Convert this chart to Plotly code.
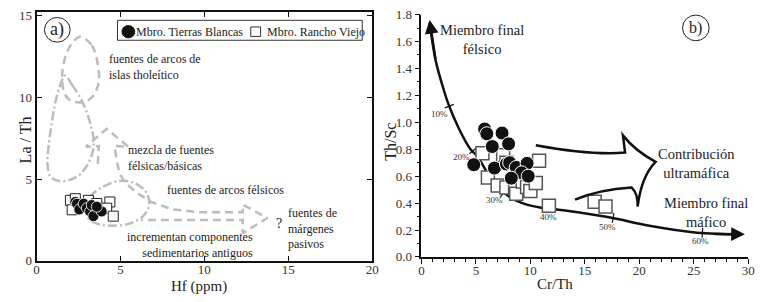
import plotly.graph_objects as go

W, H = 767, 302

# ---------------- Data ----------------
# Panel a) Hf (ppm) vs La/Th
tb_hf = [2.31, 2.41, 2.55, 2.81, 3.00, 3.19, 3.39, 3.88, 3.29, 3.59]
tb_lath = [3.60, 3.49, 3.14, 3.49, 3.22, 3.02, 2.73, 3.02, 3.41, 3.31]
rv_hf = [2.02, 2.31, 2.12, 3.10, 3.59, 4.37, 4.18, 4.57, 2.70]
rv_lath = [3.70, 3.80, 3.12, 3.70, 3.51, 3.60, 3.22, 2.73, 3.31]

# Panel b) Cr/Th vs Th/Sc
tb_crth = [5.8, 6.0, 7.4, 6.5, 8.0, 4.8, 6.7, 7.8, 8.1, 8.7, 9.7, 9.2, 9.8, 8.25]
tb_thsc = [0.95, 0.915, 0.92, 0.82, 0.84, 0.685, 0.66, 0.69, 0.70, 0.665, 0.695, 0.625, 0.60, 0.585]
rv_crth = [5.6, 7.5, 10.8, 7.8, 6.1, 7.0, 7.8, 8.6, 8.7, 9.3, 9.7, 10.0, 10.5, 11.7, 15.9, 16.9]
rv_thsc = [0.77, 0.755, 0.715, 0.70, 0.59, 0.53, 0.515, 0.51, 0.47, 0.56, 0.52, 0.49, 0.55, 0.38, 0.41, 0.375]

# Mixing curve
mix_crth = [0.75, 1.3, 2.05, 2.5, 3.4, 4.5, 5.1, 6.6, 8.1, 9.6, 11.1, 13.2, 16.1, 17.8, 20.8, 25.3, 29.4]
mix_thsc = [1.74, 1.46, 1.24, 1.13, 0.96, 0.80, 0.75, 0.56, 0.445, 0.39, 0.365, 0.345, 0.31, 0.285, 0.233, 0.18, 0.168]
pct_labels = ["10%", "20%", "30%", "40%", "50%", "60%"]
pct_crth = [2.55, 4.75, 7.5, 12.1, 17.6, 25.8]
pct_thsc = [1.12, 0.79, 0.47, 0.36, 0.29, 0.18]
pct_lab_crth = [1.63, 3.72, 6.7, 11.7, 17.1, 25.6]
pct_lab_thsc = [1.06, 0.74, 0.42, 0.30, 0.22, 0.12]

# Panel a) provenance fields (grey outlines)
tholeiitic_hf = [2.59, 3.29, 3.65, 3.70, 3.29, 2.70, 2.00, 1.65, 1.53, 1.76, 2.12, 2.59]
tholeiitic_lath = [13.72, 13.20, 12.03, 10.87, 10.00, 9.71, 9.83, 10.29, 11.45, 12.62, 13.31, 13.72]
mixfield_hf = [1.71, 2.12, 2.53, 2.94, 3.24, 3.41, 3.35, 3.06, 2.59, 1.94, 1.35, 0.82, 0.65, 0.71, 0.88, 1.12, 1.41, 1.71]
mixfield_lath = [11.34, 10.76, 10.12, 9.24, 8.26, 7.38, 6.69, 5.93, 5.29, 4.94, 4.88, 5.17, 5.93, 6.92, 8.26, 9.71, 10.76, 11.34]
felsic_hf = [2.94, 3.18, 3.88, 4.88, 5.82, 6.53, 6.71, 6.35, 5.53, 4.47, 3.59, 3.06, 2.94]
felsic_lath = [3.14, 3.90, 4.48, 4.88, 4.77, 4.19, 3.43, 2.73, 2.27, 2.15, 2.27, 2.62, 3.14]
arrow_hf = [3.65, 3.71, 2.94, 4.18, 5.47, 4.65, 4.76, 4.94, 5.29, 5.94, 6.82, 8.12, 9.76, 12.29, 12.29, 13.76, 12.29, 12.29, 6.24]
arrow_lath = [5.93, 7.03, 6.98, 8.08, 6.98, 7.03, 6.22, 5.35, 4.77, 4.19, 3.60, 3.14, 2.97, 2.97, 3.43, 2.62, 1.69, 2.50, 2.50]

x1_ticks = [0, 5, 10, 15, 20]
y1_ticks = [0, 5, 10, 15]
x2_ticks = [0, 5, 10, 15, 20, 25, 30]
y2_ticks = [0.0, 0.2, 0.4, 0.6, 0.8, 1.0, 1.2, 1.4, 1.6, 1.8]

SERIF = "Liberation Serif"
GREY = "#bcbcbc"


def P(px, py):
    return px / W, 1 - py / H


fig = go.Figure()

# ---- Panel a fields ----
fig.add_trace(go.Scatter(x=tholeiitic_hf, y=tholeiitic_lath, mode="lines", xaxis="x", yaxis="y",
                         line=dict(color=GREY, width=2.5, dash="8px,5px", shape="spline", smoothing=1.0),
                         showlegend=False, hoverinfo="skip"))
fig.add_trace(go.Scatter(x=mixfield_hf, y=mixfield_lath, mode="lines", xaxis="x", yaxis="y",
                         line=dict(color=GREY, width=2.5, dash="9px,3px,2px,3px", shape="spline", smoothing=1.0),
                         showlegend=False, hoverinfo="skip"))
fig.add_trace(go.Scatter(x=felsic_hf, y=felsic_lath, mode="lines", xaxis="x", yaxis="y",
                         line=dict(color=GREY, width=2.5, dash="9px,3px,2px,3px", shape="spline", smoothing=1.0),
                         showlegend=False, hoverinfo="skip"))
fig.add_trace(go.Scatter(x=arrow_hf, y=arrow_lath, mode="lines", xaxis="x", yaxis="y",
                         line=dict(color=GREY, width=2.5, dash="8px,5px"),
                         showlegend=False, hoverinfo="skip"))

# ---- Panel a data ----
fig.add_trace(go.Scatter(x=rv_hf, y=rv_lath, mode="markers", xaxis="x", yaxis="y",
                         marker=dict(symbol="square", size=10, color="white", line=dict(color="#222", width=1)),
                         showlegend=False))
fig.add_trace(go.Scatter(x=tb_hf, y=tb_lath, mode="markers", xaxis="x", yaxis="y",
                         marker=dict(symbol="circle", size=11, color="#111", line=dict(color="white", width=0.8)),
                         showlegend=False))

# ---- Panel b ----
fig.add_trace(go.Scatter(x=mix_crth, y=mix_thsc, mode="lines", xaxis="x2", yaxis="y2",
                         line=dict(color="#111", width=2.5, shape="spline", smoothing=1.0),
                         showlegend=False, hoverinfo="skip"))
fig.add_trace(go.Scatter(x=pct_crth, y=pct_thsc, mode="markers", xaxis="x2", yaxis="y2",
                         marker=dict(symbol="line-ns", size=7, angle=[69, 50, 40, 15, 10, 4],
                                     line=dict(color="#111", width=1.2)),
                         showlegend=False, hoverinfo="skip"))
fig.add_trace(go.Scatter(x=rv_crth, y=rv_thsc, mode="markers", xaxis="x2", yaxis="y2",
                         name="Mbro. Rancho Viejo", showlegend=False,
                         marker=dict(symbol="square", size=13, color="white", line=dict(color="#555", width=1.5))))
fig.add_trace(go.Scatter(x=tb_crth, y=tb_thsc, mode="markers", xaxis="x2", yaxis="y2",
                         name="Mbro. Tierras Blancas", showlegend=False,
                         marker=dict(symbol="circle", size=14, color="#111", line=dict(color="white", width=1))))

annotations = []
# percentage labels
for lab, xx, yy in zip(pct_labels, pct_lab_crth, pct_lab_thsc):
    annotations.append(dict(x=xx, y=yy, xref="x2", yref="y2", text=lab, showarrow=False,
                            font=dict(family=SERIF, size=9, color="#333")))
# curve arrowheads
annotations.append(dict(x=mix_crth[0], y=mix_thsc[0] + 0.02, ax=mix_crth[1], ay=mix_thsc[1], xref="x2", yref="y2",
                        axref="x2", ayref="y2", text="", showarrow=True, arrowhead=2, arrowsize=1.1,
                        arrowwidth=2.5, arrowcolor="#111"))
annotations.append(dict(x=mix_crth[-1] + 0.3, y=mix_thsc[-1], ax=mix_crth[-2] + 1.5, ay=mix_thsc[-1] + 0.003,
                        xref="x2", yref="y2", axref="x2", ayref="y2", text="", showarrow=True, arrowhead=2,
                        arrowsize=1.1, arrowwidth=2.5, arrowcolor="#111"))


def txt(px, py, s, size=12, xanchor="left", align="left"):
    x, y = P(px, py)
    annotations.append(dict(x=x, y=y, xref="paper", yref="paper", text=s, showarrow=False,
                            xanchor=xanchor, yanchor="middle", align=align, borderpad=0,
                            font=dict(family=SERIF, size=size, color="#222")))


# Panel a texts
txt(106, 63, "fuentes de arcos de<br>islas tholeítico")
txt(126, 159, "mezcla de fuentes<br>félsicas/básicas")
txt(165, 193, "fuentes de arcos félsicos")
txt(276, 228, "?", size=14)
txt(288, 233, "fuentes de<br>márgenes<br>pasivos")
txt(254, 250, "incrementan componentes<br>sedimentarios antiguos", xanchor="right", align="right")
txt(55, 24, "a)", size=18, xanchor="center", align="center")
# legend texts
txt(134, 26, "Mbro. Tierras Blancas")
txt(266, 26, "Mbro. Rancho Viejo")
# Panel b texts
txt(485, 34, "Miembro final<br>félsico", size=14.5, xanchor="center", align="center")
txt(703, 165, "Contribución<br>ultramáfica", size=14.5, xanchor="center", align="center")
txt(712, 216, "Miembro final<br>máfico", size=14.5, xanchor="center", align="center")
txt(702, 22, "b)", size=16, xanchor="center", align="center")

# axis titles
txt(199, 294, "Hf (ppm)", size=15, xanchor="center", align="center")
txt(559, 291, "Cr/Th", size=15, xanchor="center", align="center")
x, y = P(12, 140)
annotations.append(dict(x=x, y=y, xref="paper", yref="paper", text="La / Th", showarrow=False, textangle=-90,
                        font=dict(family=SERIF, size=16, color="#222")))
x, y = P(393, 142)
annotations.append(dict(x=x, y=y, xref="paper", yref="paper", text="Th/Sc", showarrow=False, textangle=-90,
                        font=dict(family=SERIF, size=16, color="#222")))

shapes = []
# circles around panel letters
for cx, cy, r in [(55, 24, 13), (702, 22, 13.5)]:
    x0, y1 = P(cx - r, cy - r)
    x1, y0 = P(cx + r, cy + r)
    shapes.append(dict(type="circle", xref="paper", yref="paper", x0=x0, x1=x1, y0=y0, y1=y1,
                       line=dict(color="#222", width=1)))
# legend box and keys
x0, y1 = P(116, 14)
x1, y0 = P(364, 35)
shapes.append(dict(type="rect", xref="paper", yref="paper", x0=x0, x1=x1, y0=y0, y1=y1,
                   line=dict(color="#333", width=1), fillcolor="rgba(0,0,0,0)"))
x0, y1 = P(120.5, 19.5)
x1, y0 = P(133.5, 32.5)
shapes.append(dict(type="circle", xref="paper", yref="paper", x0=x0, x1=x1, y0=y0, y1=y1,
                   line=dict(color="#111", width=1), fillcolor="#111"))
x0, y1 = P(251, 21)
x1, y0 = P(261, 31)
shapes.append(dict(type="rect", xref="paper", yref="paper", x0=x0, x1=x1, y0=y0, y1=y1,
                   line=dict(color="#333", width=1), fillcolor="white"))
# big ultramafic contribution arrow (outline) in data units of panel b
shapes.append(dict(type="path", xref="x2", yref="y2",
                   path="M 10.5,0.83 Q 15.5,0.755 18.7,0.775 L 18.5,0.903 Q 19.6,0.79 21.5,0.706 "
                        "Q 20.2,0.60 19.85,0.374 Q 19.9,0.47 19.3,0.515 Q 16.3,0.50 14.1,0.425",
                   line=dict(color="#111", width=2.5)))

xd1 = [34 / W, 374 / W]
yd1 = [1 - 267 / H, 1 - 5 / H]
xd2 = [424 / W, 755 / W]
yd2 = [1 - 263 / H, 1 - 8 / H]

fig.update_layout(
    width=W, height=H, margin=dict(l=0, r=0, t=0, b=0),
    paper_bgcolor="white", plot_bgcolor="white", showlegend=False,
    font=dict(family=SERIF, size=12, color="#222"),
    xaxis=dict(domain=xd1, range=[0, 20], tickvals=x1_ticks, ticks="inside", ticklen=5, tickwidth=1,
               tickcolor="#111", mirror="ticks", showline=True, linecolor="#111", linewidth=2,
               ticklabelstandoff=-4,
               showgrid=False, zeroline=False, anchor="y", tickfont=dict(family=SERIF, size=13, color="#333")),
    yaxis=dict(domain=yd1, range=[0, 15.25], tickvals=y1_ticks, ticks="inside", ticklen=5, tickwidth=1,
               tickcolor="#111", mirror="ticks", showline=True, linecolor="#111", linewidth=2,
               showgrid=False, zeroline=False, anchor="x", tickfont=dict(family=SERIF, size=13, color="#333")),
    xaxis2=dict(domain=xd2, range=[0, 30], tickvals=x2_ticks, ticks="outside", ticklen=5, tickwidth=1.2,
                tickcolor="#111", showline=True, linecolor="#111", linewidth=1.5,
                minor=dict(ticks="outside", dtick=1, ticklen=3, tickcolor="#111", tickwidth=1),
                ticklabelstandoff=-4,
                showgrid=False, zeroline=False, anchor="y2", tickfont=dict(family=SERIF, size=13, color="#333")),
    yaxis2=dict(domain=yd2, range=[0, 1.8], tickvals=y2_ticks, tickformat=".1f", ticks="outside", ticklen=5,
                tickwidth=1.2, tickcolor="#111", showline=True, linecolor="#111", linewidth=1.5,
                minor=dict(ticks="outside", dtick=0.1, ticklen=3, tickcolor="#111", tickwidth=1),
                showgrid=False, zeroline=False, anchor="x2", tickfont=dict(family=SERIF, size=13, color="#333")),
    annotations=annotations,
    shapes=shapes,
)

post = (
    "document.documentElement.style.margin='0';document.documentElement.style.overflow='hidden';"
    "document.body.style.margin='0';document.body.style.padding='0';document.body.style.overflow='hidden';"
    "var d=document.getElementsByClassName('plotly-graph-div')[0];"
    "if(d){d.style.position='fixed';d.style.left='0px';d.style.top='0px';}"
)
fig.write_html("out.html", config={"displayModeBar": False}, post_script=post)
